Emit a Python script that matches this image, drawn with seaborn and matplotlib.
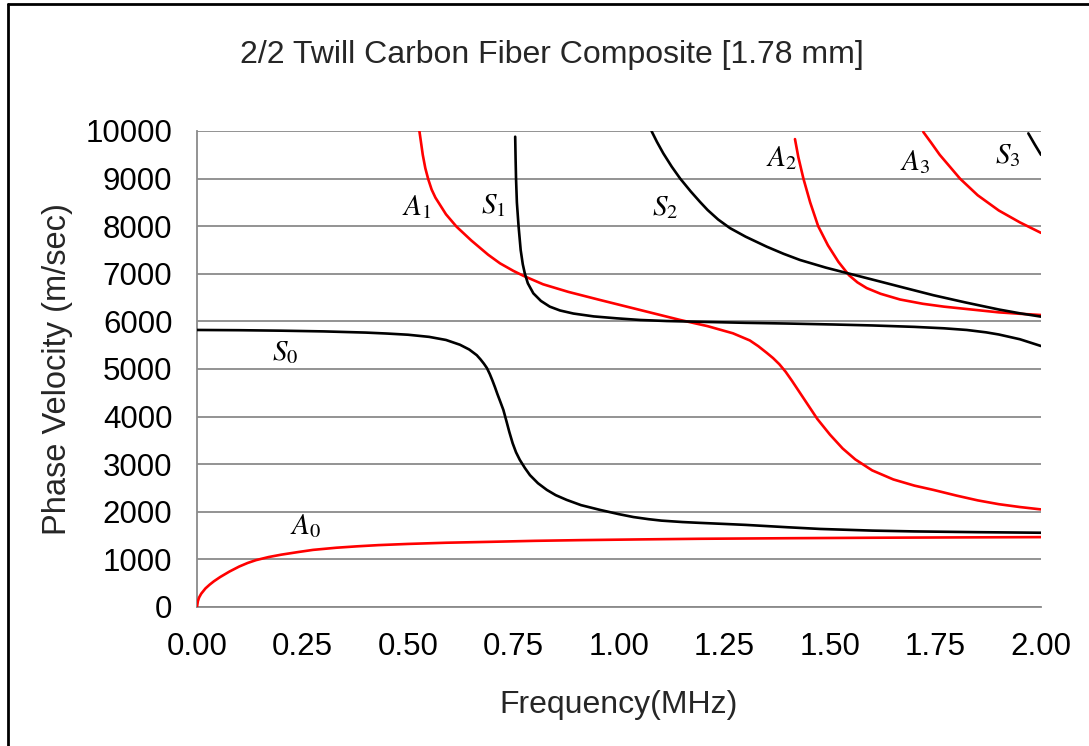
import matplotlib
matplotlib.use("Agg")
import matplotlib.pyplot as plt
import seaborn as sns
import pandas as pd
from matplotlib.lines import Line2D

# ---- data (frequency in MHz, phase velocity in m/s) ----
A0_f = [0, 0.002, 0.005, 0.01, 0.02, 0.03, 0.04, 0.055, 0.077, 0.1, 0.12, 0.14, 0.17, 0.2,
        0.24, 0.275, 0.33, 0.38, 0.43, 0.5, 0.59, 0.7, 0.8, 0.91, 1.05, 1.19, 1.4, 1.6, 1.8, 2.0]
A0_v = [0, 120, 200, 280, 390, 470, 540, 630, 745, 850, 925, 985, 1050, 1100,
        1155, 1200, 1245, 1275, 1300, 1325, 1350, 1370, 1390, 1405, 1420, 1433, 1445, 1455, 1462, 1468]

S0_f = [0, 0.1, 0.2, 0.3, 0.4, 0.45, 0.5, 0.55, 0.59, 0.623, 0.645, 0.663, 0.672, 0.68,
        0.687, 0.694, 0.70, 0.706, 0.712, 0.718, 0.726, 0.734, 0.74, 0.748, 0.756, 0.765,
        0.777, 0.789, 0.808, 0.829, 0.85, 0.876, 0.91, 0.955, 1.0, 1.034, 1.07, 1.1, 1.15,
        1.19, 1.25, 1.3, 1.4, 1.476, 1.6, 1.7, 1.85, 2.0]
S0_v = [5820, 5815, 5805, 5790, 5765, 5745, 5720, 5675, 5610, 5510, 5410, 5290, 5200, 5110,
        5020, 4890, 4760, 4620, 4470, 4330, 4140, 3880, 3680, 3440, 3250, 3090,
        2920, 2770, 2600, 2460, 2350, 2250, 2140, 2040, 1950, 1890, 1845, 1815, 1785,
        1768, 1745, 1725, 1675, 1640, 1605, 1588, 1572, 1560]

S1_f = [0.754, 0.755, 0.756, 0.758, 0.762, 0.767, 0.772, 0.777, 0.784, 0.797, 0.815, 0.836,
        0.86, 0.892, 0.94, 0.994, 1.05, 1.113, 1.2, 1.3, 1.4, 1.508, 1.6, 1.7, 1.77, 1.824,
        1.87, 1.9, 1.95, 2.0]
S1_v = [9880, 9400, 9000, 8500, 8000, 7500, 7200, 7000, 6800, 6590, 6430, 6310,
        6230, 6165, 6105, 6065, 6030, 6008, 5990, 5970, 5955, 5935, 5915, 5885, 5855, 5820,
        5770, 5725, 5625, 5483]

A1_f = [0.527, 0.535, 0.541, 0.548, 0.556, 0.565, 0.59, 0.615, 0.65, 0.69, 0.718, 0.75,
        0.773, 0.82, 0.88, 0.955, 1.05, 1.145, 1.21, 1.27, 1.31, 1.33, 1.35, 1.365, 1.38,
        1.395, 1.41, 1.44, 1.47, 1.5, 1.53, 1.56, 1.6, 1.65, 1.7, 1.745, 1.8, 1.85, 1.9,
        1.95, 2.0]
A1_v = [10000, 9500, 9220, 8985, 8770, 8600, 8250, 7990, 7700, 7400, 7220, 7060,
        6960, 6780, 6620, 6450, 6240, 6030, 5900, 5750, 5600, 5480, 5340, 5230, 5100,
        4940, 4750, 4350, 3950, 3620, 3330, 3100, 2870, 2680, 2550, 2460, 2340, 2240, 2160,
        2100, 2050]

S2_f = [1.077, 1.09, 1.105, 1.125, 1.145, 1.17, 1.192, 1.21, 1.235, 1.263, 1.3, 1.35, 1.39,
        1.429, 1.49, 1.547, 1.6, 1.67, 1.745, 1.82, 1.9, 1.95, 2.0]
S2_v = [10000, 9770, 9530, 9250, 9000, 8730, 8510, 8340, 8140, 7960, 7780, 7570, 7420,
        7290, 7130, 7000, 6880, 6720, 6550, 6400, 6250, 6170, 6100]

A2_f = [1.417, 1.425, 1.437, 1.453, 1.472, 1.495, 1.52, 1.545, 1.565, 1.587, 1.62, 1.666,
        1.72, 1.77, 1.824, 1.9, 1.95, 2.0]
A2_v = [9830, 9450, 9000, 8500, 8000, 7600, 7250, 6970, 6820, 6700, 6580, 6460,
        6370, 6310, 6260, 6190, 6160, 6134]

A3_f = [1.721, 1.74, 1.76, 1.785, 1.808, 1.85, 1.9, 1.95, 2.0]
A3_v = [9980, 9750, 9500, 9240, 9000, 8650, 8330, 8080, 7860]

S3_f = [1.97, 1.985, 2.0]
S3_v = [9950, 9720, 9500]

x_ticks = [0.00, 0.25, 0.50, 0.75, 1.00, 1.25, 1.50, 1.75, 2.00]
y_ticks = list(range(0, 10001, 1000))

labels = ["A0", "S0", "A1", "S1", "A2", "S2", "A3", "S3"]
label_f = [0.256, 0.209, 0.521, 0.701, 1.384, 1.109, 1.701, 1.922]
label_v = [1700, 5360, 8400, 8450, 9430, 8400, 9350, 9500]

modes = {"A0": (A0_f, A0_v), "S0": (S0_f, S0_v), "A1": (A1_f, A1_v), "S1": (S1_f, S1_v),
         "A2": (A2_f, A2_v), "S2": (S2_f, S2_v), "A3": (A3_f, A3_v), "S3": (S3_f, S3_v)}

rows = []
for name, (fs, vs) in modes.items():
    for f, v in zip(fs, vs):
        rows.append({"mode": name, "f": f, "v": v})
df = pd.DataFrame(rows)

palette = {m: ("#ff0000" if m.startswith("A") else "#000000") for m in modes}

sns.set_style("white")
plt.rcParams["font.family"] = ["Liberation Sans", "DejaVu Sans"]
plt.rcParams["mathtext.fontset"] = "stix"

fig = plt.figure(figsize=(10.89, 7.46), dpi=100)
ax = fig.add_axes([197/1089, (746-607)/746, (1041-197)/1089, (607-131)/746])

sns.lineplot(data=df, x="f", y="v", hue="mode", palette=palette, units="mode",
             estimator=None, sort=False, legend=False, linewidth=1.9, ax=ax, zorder=3)

ax.set_xlim(0, 2.0)
ax.set_ylim(0, 10000)
ax.set_xticks(x_ticks)
ax.set_xticklabels([f"{t:.2f}" for t in x_ticks])
ax.set_yticks(y_ticks)
ax.set_yticklabels([str(t) for t in y_ticks])
ax.yaxis.grid(True, color="#8a8a8a", linewidth=1.3)
ax.xaxis.grid(False)
ax.set_axisbelow(True)
for s in ["top", "right"]:
    ax.spines[s].set_visible(False)
for s in ["left", "bottom"]:
    ax.spines[s].set_color("#8a8a8a")
    ax.spines[s].set_linewidth(1.3)
ax.tick_params(axis="both", which="major", direction="out", length=7.2, width=1.3,
               color="#555555", labelsize=22.5, labelcolor="#000000")
ax.tick_params(axis="x", pad=11)
ax.tick_params(axis="y", pad=10.5)

ax.set_xlabel("Frequency(MHz)", fontsize=23, labelpad=20)
ax.set_ylabel("Phase Velocity (m/sec)", fontsize=23.5, labelpad=9)

for name, f, v in zip(labels, label_f, label_v):
    ax.text(f, v, rf"${name[0]}_{{{name[1]}}}$", fontsize=21, ha="center", va="center",
            color="#000000", zorder=4)

fig.text(552/1089, 1 - 55/746, "2/2 Twill Carbon Fiber Composite [1.78 mm]",
         fontsize=23, ha="center", va="center")

# outer frame of the chart
fig.add_artist(Line2D([8/1089, 8/1089], [0, 1 - 4/746], transform=fig.transFigure,
                      color="#000000", linewidth=2))
fig.add_artist(Line2D([8/1089, 1.0], [1 - 4/746, 1 - 4/746], transform=fig.transFigure,
                      color="#000000", linewidth=2))

fig.savefig("out.png", dpi=100, facecolor="white")
